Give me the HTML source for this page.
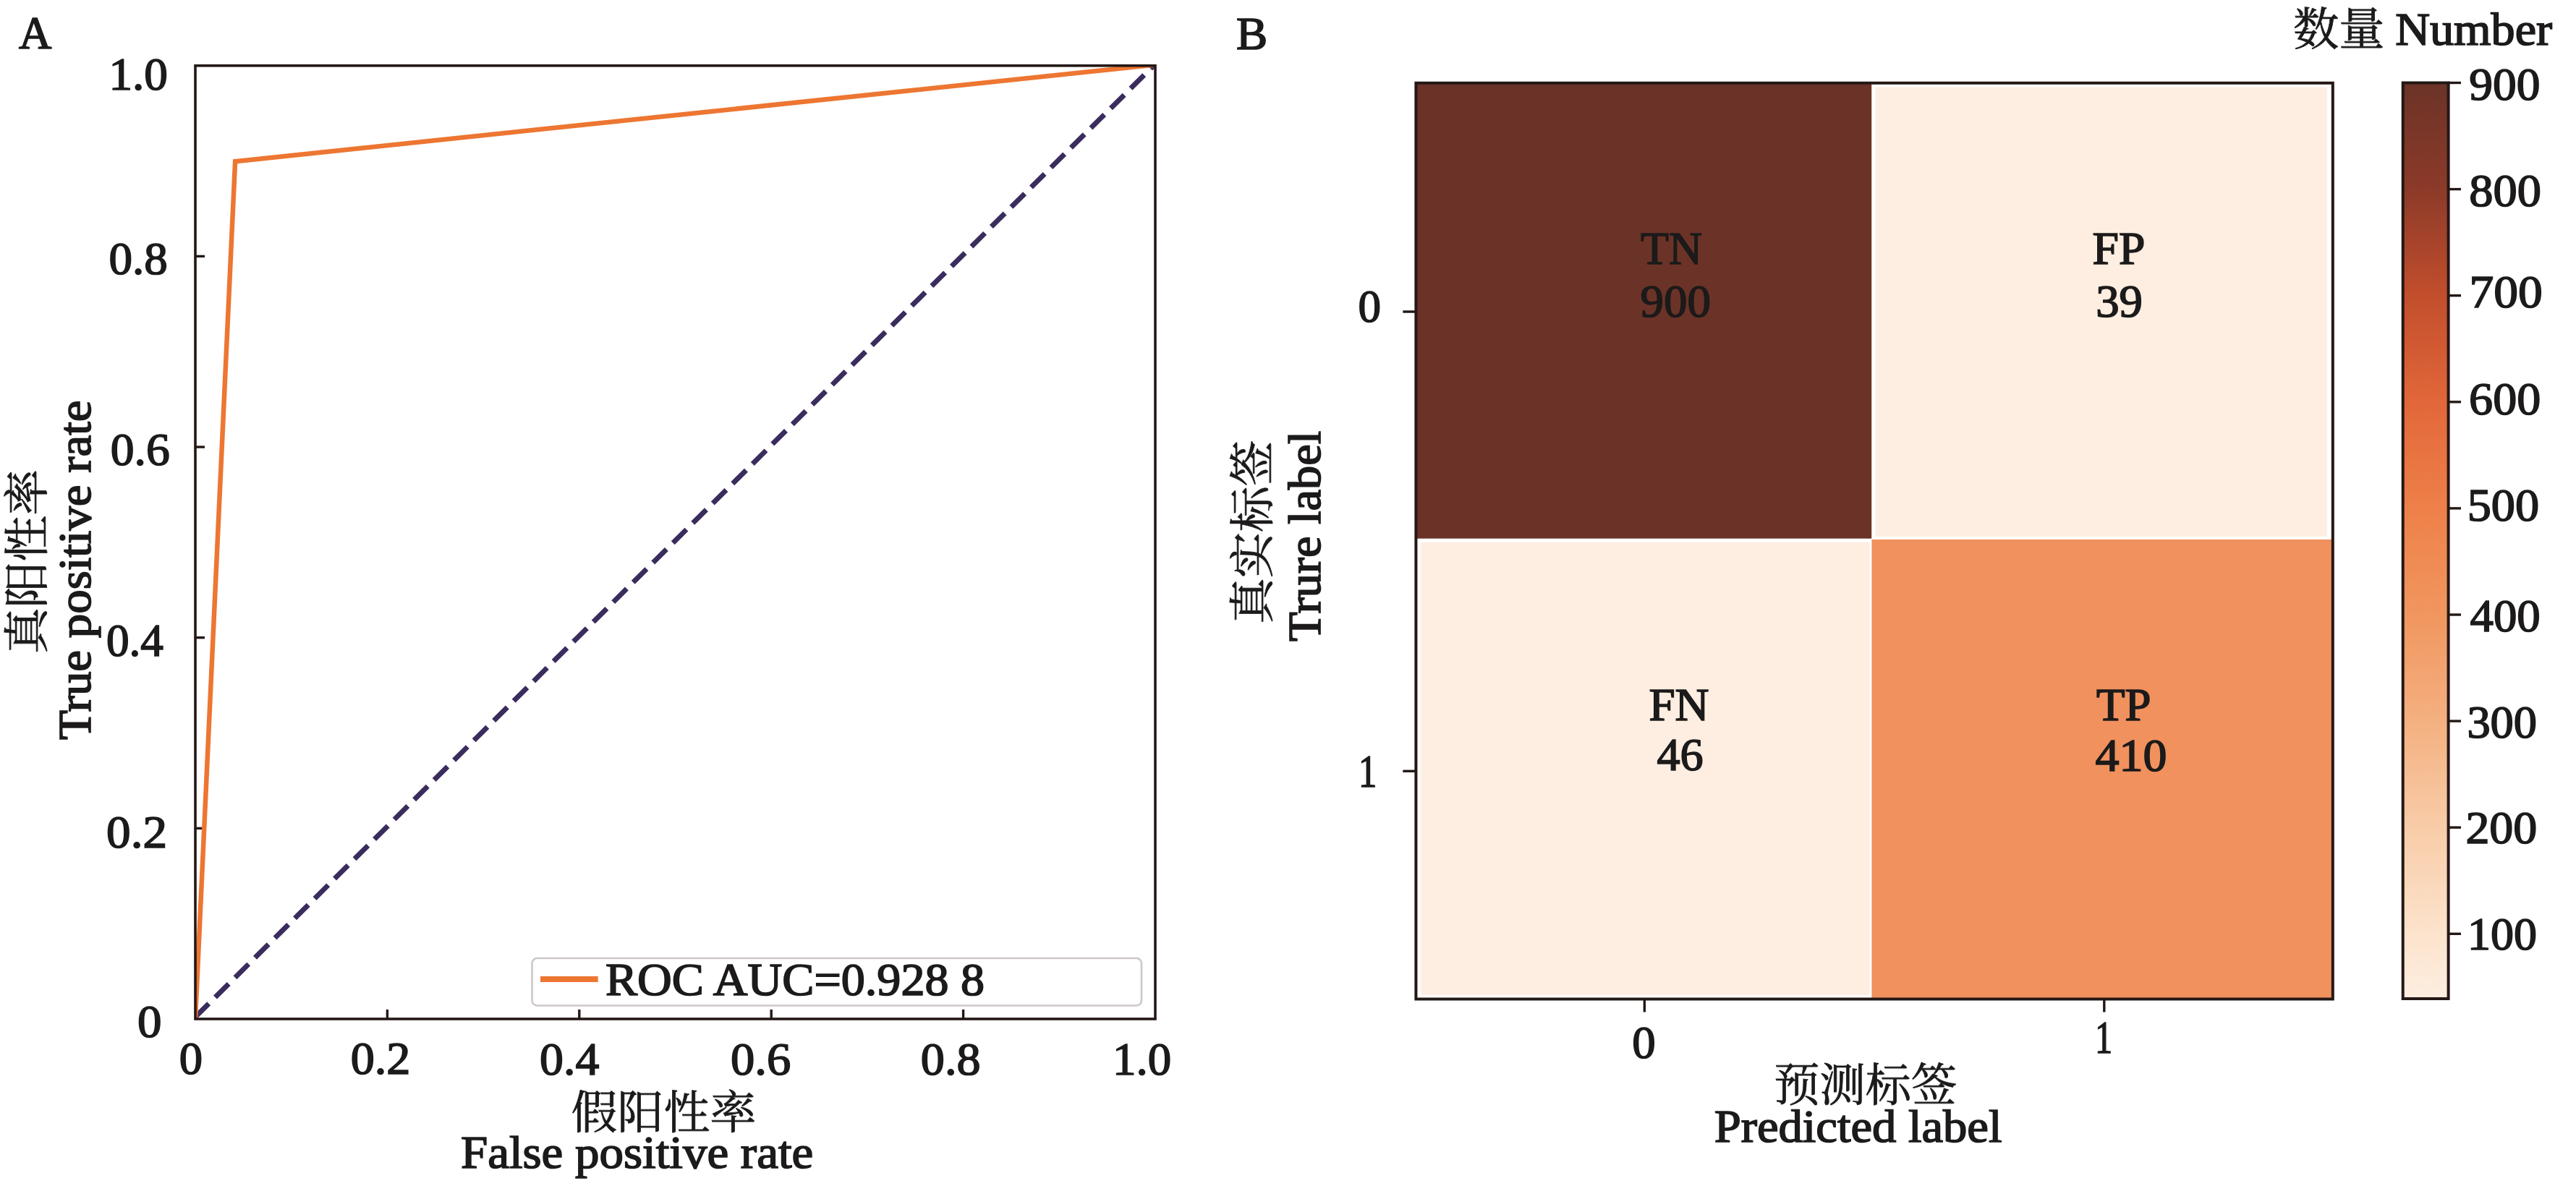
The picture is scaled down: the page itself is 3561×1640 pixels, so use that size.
<!DOCTYPE html>
<html><head><meta charset="utf-8"><title>ROC curve and confusion matrix</title>
<style>html,body{margin:0;padding:0;background:#fff;overflow:hidden;}svg{display:block;}text{fill:#1c1a1a;}</style>
</head><body>
<svg width="3561" height="1640" viewBox="0 0 3561 1640">
<defs><clipPath id="axclip"><rect x="269.0" y="91.3" width="1328.5" height="1319.2"/></clipPath><linearGradient id="cb" x1="0" y1="0" x2="0" y2="1"><stop offset="0.0000" stop-color="#6b3327"/><stop offset="0.1161" stop-color="#8c3a29"/><stop offset="0.2323" stop-color="#c24e2c"/><stop offset="0.3484" stop-color="#e2673a"/><stop offset="0.4646" stop-color="#ee8049"/><stop offset="0.5807" stop-color="#f1965f"/><stop offset="0.6969" stop-color="#f4b080"/><stop offset="0.8130" stop-color="#f8cca8"/><stop offset="0.9292" stop-color="#fce3cc"/><stop offset="1.0000" stop-color="#fdeee1"/></linearGradient></defs>
<rect width="3561" height="1640" fill="#fff"/>
<line x1="535.4" y1="1409.0" x2="535.4" y2="1396.0" stroke="#231815" stroke-width="3.4"/>
<line x1="270.0" y1="1145.4" x2="283.0" y2="1145.4" stroke="#231815" stroke-width="3.4"/>
<line x1="800.8" y1="1409.0" x2="800.8" y2="1396.0" stroke="#231815" stroke-width="3.4"/>
<line x1="270.0" y1="881.7" x2="283.0" y2="881.7" stroke="#231815" stroke-width="3.4"/>
<line x1="1066.2" y1="1409.0" x2="1066.2" y2="1396.0" stroke="#231815" stroke-width="3.4"/>
<line x1="270.0" y1="618.1" x2="283.0" y2="618.1" stroke="#231815" stroke-width="3.4"/>
<line x1="1331.6" y1="1409.0" x2="1331.6" y2="1396.0" stroke="#231815" stroke-width="3.4"/>
<line x1="270.0" y1="354.4" x2="283.0" y2="354.4" stroke="#231815" stroke-width="3.4"/>
<g clip-path="url(#axclip)">
<line x1="270.0" y1="1406.3" x2="1597.0" y2="88.6" stroke="#3b2c5e" stroke-width="7" stroke-dasharray="26.3 12.47"/>
<polyline points="270.0,1409.0 325.1,223.2 1597.0,89.6" fill="none" stroke="#ed7632" stroke-width="6.5" stroke-linejoin="miter"/>
</g>
<rect x="270.0" y="90.8" width="1327.0" height="1318.2" fill="none" stroke="#231815" stroke-width="3.6"/>
<rect x="735.5" y="1325" width="842.5" height="65.5" rx="7" fill="#fff" stroke="#cdc8c5" stroke-width="2.6"/>
<line x1="747" y1="1354" x2="826.7" y2="1354" stroke="#ed7632" stroke-width="8"/>
<rect x="1957.4" y="114.8" width="1267.4" height="1266.7" fill="#fff"/>
<rect x="1957.4" y="114.8" width="629.8" height="629.9" fill="#6b3327"/>
<rect x="2592.5" y="120.2" width="624.3" height="621.8" fill="#fdeee1"/>
<rect x="1963.8" y="750.0" width="620.4" height="626.3" fill="#fdeee1"/>
<rect x="2587.4" y="746.0" width="637.4" height="635.5" fill="#f0915e"/>
<rect x="1957.4" y="114.8" width="1267.4" height="1266.7" fill="none" stroke="#231815" stroke-width="4"/>
<line x1="1939.3" y1="431" x2="1957.4" y2="431" stroke="#231815" stroke-width="3.4"/>
<line x1="1939.3" y1="1066.3" x2="1957.4" y2="1066.3" stroke="#231815" stroke-width="3.4"/>
<line x1="2273.3" y1="1381.5" x2="2273.3" y2="1399.5" stroke="#231815" stroke-width="3.4"/>
<line x1="2908.8" y1="1381.5" x2="2908.8" y2="1399.5" stroke="#231815" stroke-width="3.4"/>
<rect x="3321.7" y="114.5" width="62.90000000000009" height="1266.5" fill="url(#cb)" stroke="#231815" stroke-width="4"/>
<line x1="3384.6" y1="1291.3" x2="3402" y2="1291.3" stroke="#231815" stroke-width="3.4"/>
<line x1="3384.6" y1="1144.2" x2="3402" y2="1144.2" stroke="#231815" stroke-width="3.4"/>
<line x1="3384.6" y1="997.1" x2="3402" y2="997.1" stroke="#231815" stroke-width="3.4"/>
<line x1="3384.6" y1="850.0" x2="3402" y2="850.0" stroke="#231815" stroke-width="3.4"/>
<line x1="3384.6" y1="702.9" x2="3402" y2="702.9" stroke="#231815" stroke-width="3.4"/>
<line x1="3384.6" y1="555.8" x2="3402" y2="555.8" stroke="#231815" stroke-width="3.4"/>
<line x1="3384.6" y1="408.7" x2="3402" y2="408.7" stroke="#231815" stroke-width="3.4"/>
<line x1="3384.6" y1="261.6" x2="3402" y2="261.6" stroke="#231815" stroke-width="3.4"/>
<line x1="3384.6" y1="114.5" x2="3402" y2="114.5" stroke="#231815" stroke-width="3.4"/>
<text id="A" x="25.9" y="66.7" text-anchor="start" font-size="64" font-family="'Liberation Serif', 'Times New Roman', serif" stroke="#1c1a1a" stroke-width="1.7" textLength="45.3" lengthAdjust="spacingAndGlyphs">A</text>
<text id="y10" x="232.0" y="124.2" text-anchor="end" font-size="64" font-family="'Liberation Serif', 'Times New Roman', serif" stroke="#1c1a1a" stroke-width="1.7" textLength="81.6" lengthAdjust="spacingAndGlyphs">1.0</text>
<text id="y08" x="231.9" y="379.2" text-anchor="end" font-size="64" font-family="'Liberation Serif', 'Times New Roman', serif" stroke="#1c1a1a" stroke-width="1.7" textLength="81.3" lengthAdjust="spacingAndGlyphs">0.8</text>
<text id="y06" x="234.7" y="642.5" text-anchor="end" font-size="64" font-family="'Liberation Serif', 'Times New Roman', serif" stroke="#1c1a1a" stroke-width="1.7" textLength="82.0" lengthAdjust="spacingAndGlyphs">0.6</text>
<text id="y04" x="226.0" y="907.0" text-anchor="end" font-size="64" font-family="'Liberation Serif', 'Times New Roman', serif" stroke="#1c1a1a" stroke-width="1.7" textLength="79.1" lengthAdjust="spacingAndGlyphs">0.4</text>
<text id="y02" x="231.0" y="1171.9" text-anchor="end" font-size="64" font-family="'Liberation Serif', 'Times New Roman', serif" stroke="#1c1a1a" stroke-width="1.7" textLength="83.9" lengthAdjust="spacingAndGlyphs">0.2</text>
<text id="y00" x="223.5" y="1434.0" text-anchor="end" font-size="64" font-family="'Liberation Serif', 'Times New Roman', serif" stroke="#1c1a1a" stroke-width="1.7" textLength="33.5" lengthAdjust="spacingAndGlyphs">0</text>
<text id="x00" x="264.0" y="1485.0" text-anchor="middle" font-size="64" font-family="'Liberation Serif', 'Times New Roman', serif" stroke="#1c1a1a" stroke-width="1.7" textLength="32.3" lengthAdjust="spacingAndGlyphs">0</text>
<text id="x02" x="526.0" y="1485.0" text-anchor="middle" font-size="64" font-family="'Liberation Serif', 'Times New Roman', serif" stroke="#1c1a1a" stroke-width="1.7" textLength="82.7" lengthAdjust="spacingAndGlyphs">0.2</text>
<text id="x04" x="787.2" y="1485.5" text-anchor="middle" font-size="64" font-family="'Liberation Serif', 'Times New Roman', serif" stroke="#1c1a1a" stroke-width="1.7" textLength="82.2" lengthAdjust="spacingAndGlyphs">0.4</text>
<text id="x06" x="1051.6" y="1486.0" text-anchor="middle" font-size="64" font-family="'Liberation Serif', 'Times New Roman', serif" stroke="#1c1a1a" stroke-width="1.7" textLength="83.2" lengthAdjust="spacingAndGlyphs">0.6</text>
<text id="x08" x="1314.2" y="1486.0" text-anchor="middle" font-size="64" font-family="'Liberation Serif', 'Times New Roman', serif" stroke="#1c1a1a" stroke-width="1.7" textLength="82.7" lengthAdjust="spacingAndGlyphs">0.8</text>
<text id="x10" x="1578.6" y="1486.0" text-anchor="middle" font-size="64" font-family="'Liberation Serif', 'Times New Roman', serif" stroke="#1c1a1a" stroke-width="1.7" textLength="81.1" lengthAdjust="spacingAndGlyphs">1.0</text>
<text id="leg" x="837.0" y="1375.8" text-anchor="start" font-size="64" font-family="'Liberation Serif', 'Times New Roman', serif" stroke="#1c1a1a" stroke-width="1.7" textLength="524.1" lengthAdjust="spacingAndGlyphs">ROC AUC=0.928 8</text>
<text id="xtc" x="917.5" y="1560.3" text-anchor="middle" font-size="63" font-family="'Liberation Serif', 'Noto Serif CJK SC', serif" stroke="#1c1a1a" stroke-width="0.8" textLength="256.0" lengthAdjust="spacingAndGlyphs">假阳性率</text>
<text id="xte" x="880.6" y="1614.8" text-anchor="middle" font-size="64" font-family="'Liberation Serif', 'Times New Roman', serif" stroke="#1c1a1a" stroke-width="1.7" textLength="487.2" lengthAdjust="spacingAndGlyphs">False positive rate</text>
<text id="yte" transform="translate(125.0,788.2) rotate(-90)" text-anchor="middle" font-size="64" font-family="'Liberation Serif', 'Times New Roman', serif" stroke="#1c1a1a" stroke-width="1.7" textLength="469.4" lengthAdjust="spacingAndGlyphs">True positive rate</text>
<text id="ytc" transform="translate(58.7,776.6) rotate(-90)" text-anchor="middle" font-size="63" font-family="'Liberation Serif', 'Noto Serif CJK SC', serif" stroke="#1c1a1a" stroke-width="0.8" textLength="255.4" lengthAdjust="spacingAndGlyphs">真阳性率</text>
<text id="B" x="1709.0" y="67.5" text-anchor="start" font-size="64" font-family="'Liberation Serif', 'Times New Roman', serif" stroke="#1c1a1a" stroke-width="1.7" textLength="43.2" lengthAdjust="spacingAndGlyphs">B</text>
<text id="TN" x="2268.0" y="364.7" text-anchor="start" font-size="64" font-family="'Liberation Serif', 'Times New Roman', serif" stroke="#1c1a1a" stroke-width="1.7" textLength="85.0" lengthAdjust="spacingAndGlyphs">TN</text>
<text id="n900" x="2267.6" y="437.8" text-anchor="start" font-size="64" font-family="'Liberation Serif', 'Times New Roman', serif" stroke="#1c1a1a" stroke-width="1.7" textLength="97.4" lengthAdjust="spacingAndGlyphs">900</text>
<text id="FP" x="2892.5" y="364.5" text-anchor="start" font-size="64" font-family="'Liberation Serif', 'Times New Roman', serif" stroke="#1c1a1a" stroke-width="1.7" textLength="72.8" lengthAdjust="spacingAndGlyphs">FP</text>
<text id="n39" x="2897.2" y="438.1" text-anchor="start" font-size="64" font-family="'Liberation Serif', 'Times New Roman', serif" stroke="#1c1a1a" stroke-width="1.7" textLength="64.8" lengthAdjust="spacingAndGlyphs">39</text>
<text id="FN" x="2279.5" y="995.5" text-anchor="start" font-size="64" font-family="'Liberation Serif', 'Times New Roman', serif" stroke="#1c1a1a" stroke-width="1.7" textLength="83.0" lengthAdjust="spacingAndGlyphs">FN</text>
<text id="n46" x="2290.5" y="1065.2" text-anchor="start" font-size="64" font-family="'Liberation Serif', 'Times New Roman', serif" stroke="#1c1a1a" stroke-width="1.7" textLength="64.1" lengthAdjust="spacingAndGlyphs">46</text>
<text id="TP" x="2898.1" y="995.9" text-anchor="start" font-size="64" font-family="'Liberation Serif', 'Times New Roman', serif" stroke="#1c1a1a" stroke-width="1.7" textLength="75.5" lengthAdjust="spacingAndGlyphs">TP</text>
<text id="n410" x="2896.6" y="1066.0" text-anchor="start" font-size="64" font-family="'Liberation Serif', 'Times New Roman', serif" stroke="#1c1a1a" stroke-width="1.7" textLength="98.9" lengthAdjust="spacingAndGlyphs">410</text>
<text id="cy0" x="1877.5" y="445.3" text-anchor="start" font-size="64" font-family="'Liberation Serif', 'Times New Roman', serif" stroke="#1c1a1a" stroke-width="1.7" textLength="31.5" lengthAdjust="spacingAndGlyphs">0</text>
<text id="cy1" x="1878.0" y="1088.2" text-anchor="start" font-size="64" font-family="'Liberation Serif', 'Times New Roman', serif" stroke="#1c1a1a" stroke-width="1.7" textLength="25.3" lengthAdjust="spacingAndGlyphs">1</text>
<text id="cx0" x="2256.3" y="1462.6" text-anchor="start" font-size="64" font-family="'Liberation Serif', 'Times New Roman', serif" stroke="#1c1a1a" stroke-width="1.7" textLength="32.4" lengthAdjust="spacingAndGlyphs">0</text>
<text id="cx1" x="2896.3" y="1456.0" text-anchor="start" font-size="64" font-family="'Liberation Serif', 'Times New Roman', serif" stroke="#1c1a1a" stroke-width="1.7" textLength="23.8" lengthAdjust="spacingAndGlyphs">1</text>
<text id="ptc" x="2578.7" y="1522.3" text-anchor="middle" font-size="63" font-family="'Liberation Serif', 'Noto Serif CJK SC', serif" stroke="#1c1a1a" stroke-width="0.8" textLength="253.1" lengthAdjust="spacingAndGlyphs">预测标签</text>
<text id="pte" x="2568.6" y="1578.9" text-anchor="middle" font-size="64" font-family="'Liberation Serif', 'Times New Roman', serif" stroke="#1c1a1a" stroke-width="1.7" textLength="397.7" lengthAdjust="spacingAndGlyphs">Predicted label</text>
<text id="tle" transform="translate(1824.9,741.3) rotate(-90)" text-anchor="middle" font-size="64" font-family="'Liberation Serif', 'Times New Roman', serif" stroke="#1c1a1a" stroke-width="1.7" textLength="291.2" lengthAdjust="spacingAndGlyphs">Trure label</text>
<text id="tlc" transform="translate(1752.8,735.8) rotate(-90)" text-anchor="middle" font-size="63" font-family="'Liberation Serif', 'Noto Serif CJK SC', serif" stroke="#1c1a1a" stroke-width="0.8" textLength="253.8" lengthAdjust="spacingAndGlyphs">真实标签</text>
<text id="c900" x="3413.2" y="138.0" text-anchor="start" font-size="64" font-family="'Liberation Serif', 'Times New Roman', serif" stroke="#1c1a1a" stroke-width="1.7" textLength="98.2" lengthAdjust="spacingAndGlyphs">900</text>
<text id="c800" x="3413.2" y="285.3" text-anchor="start" font-size="64" font-family="'Liberation Serif', 'Times New Roman', serif" stroke="#1c1a1a" stroke-width="1.7" textLength="99.7" lengthAdjust="spacingAndGlyphs">800</text>
<text id="c700" x="3413.5" y="425.1" text-anchor="start" font-size="64" font-family="'Liberation Serif', 'Times New Roman', serif" stroke="#1c1a1a" stroke-width="1.7" textLength="101.3" lengthAdjust="spacingAndGlyphs">700</text>
<text id="c600" x="3413.1" y="572.8" text-anchor="start" font-size="64" font-family="'Liberation Serif', 'Times New Roman', serif" stroke="#1c1a1a" stroke-width="1.7" textLength="99.1" lengthAdjust="spacingAndGlyphs">600</text>
<text id="c500" x="3410.7" y="719.7" text-anchor="start" font-size="64" font-family="'Liberation Serif', 'Times New Roman', serif" stroke="#1c1a1a" stroke-width="1.7" textLength="99.4" lengthAdjust="spacingAndGlyphs">500</text>
<text id="c400" x="3414.5" y="872.7" text-anchor="start" font-size="64" font-family="'Liberation Serif', 'Times New Roman', serif" stroke="#1c1a1a" stroke-width="1.7" textLength="97.3" lengthAdjust="spacingAndGlyphs">400</text>
<text id="c300" x="3410.4" y="1019.5" text-anchor="start" font-size="64" font-family="'Liberation Serif', 'Times New Roman', serif" stroke="#1c1a1a" stroke-width="1.7" textLength="96.7" lengthAdjust="spacingAndGlyphs">300</text>
<text id="c200" x="3408.4" y="1165.6" text-anchor="start" font-size="64" font-family="'Liberation Serif', 'Times New Roman', serif" stroke="#1c1a1a" stroke-width="1.7" textLength="98.9" lengthAdjust="spacingAndGlyphs">200</text>
<text id="c100" x="3410.9" y="1312.5" text-anchor="start" font-size="64" font-family="'Liberation Serif', 'Times New Roman', serif" stroke="#1c1a1a" stroke-width="1.7" textLength="96.0" lengthAdjust="spacingAndGlyphs">100</text>
<text id="nmc" x="3169.9" y="61.7" text-anchor="start" font-size="63" font-family="'Liberation Serif', 'Noto Serif CJK SC', serif" stroke="#1c1a1a" stroke-width="0.8" textLength="126.5" lengthAdjust="spacingAndGlyphs">数量</text>
<text id="nme" x="3311.2" y="61.6" text-anchor="start" font-size="64" font-family="'Liberation Serif', 'Times New Roman', serif" stroke="#1c1a1a" stroke-width="1.7" textLength="216.9" lengthAdjust="spacingAndGlyphs">Number</text>
</svg>
</body></html>
